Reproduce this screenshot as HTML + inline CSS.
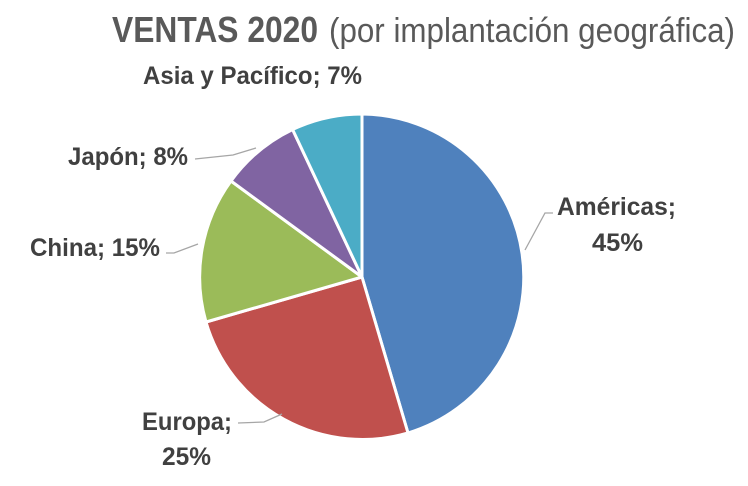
<!DOCTYPE html>
<html><head><meta charset="utf-8"><style>
html,body{margin:0;padding:0;background:#fff;}
svg{display:block;font-family:"Liberation Sans",sans-serif;}
.l{font-weight:bold;font-size:25px;fill:#404040;}
</style></head><body>
<svg width="748" height="486" viewBox="0 0 748 486">
<rect width="748" height="486" fill="#fff"/>
<text x="112" y="42" font-size="36" font-weight="bold" fill="#595959" textLength="206" lengthAdjust="spacingAndGlyphs">VENTAS 2020</text>
<text x="329" y="42" font-size="34" fill="#595959" textLength="406" lengthAdjust="spacingAndGlyphs">(por implantación geográfica)</text>
<g stroke="#fff" stroke-width="3" stroke-linejoin="round">
<path d="M362,277 L362,114 A163,163 0 0 1 408,433 Z" fill="#4f81bd"/>
<path d="M362,277 L408,433 A163,163 0 0 1 206,322 Z" fill="#c0504d"/>
<path d="M362,277 L206,322 A163,163 0 0 1 231,181 Z" fill="#9bbb59"/>
<path d="M362,277 L231,181 A163,163 0 0 1 292.6,129.5 Z" fill="#8064a2"/>
<path d="M362,277 L292.6,129.5 A163,163 0 0 1 362,114 Z" fill="#4bacc6"/>
</g>
<g stroke="#a6a6a6" stroke-width="1.3" fill="none">
<polyline points="525,250 545,213 553,213"/>
<polyline points="282,414 264,422 238,423"/>
<polyline points="198,244 174,253 166,253"/>
<polyline points="256,148 233,155 195,159"/>
</g>
<text class="l" x="143" y="84" textLength="219" lengthAdjust="spacingAndGlyphs">Asia y Pacífico; 7%</text>
<text class="l" x="68" y="165" textLength="120" lengthAdjust="spacingAndGlyphs">Japón; 8%</text>
<text class="l" x="30" y="256" textLength="130" lengthAdjust="spacingAndGlyphs">China; 15%</text>
<text class="l" x="557" y="215" textLength="119" lengthAdjust="spacingAndGlyphs">Américas;</text>
<text class="l" x="592" y="251" textLength="51" lengthAdjust="spacingAndGlyphs">45%</text>
<text class="l" x="142" y="430" textLength="90" lengthAdjust="spacingAndGlyphs">Europa;</text>
<text class="l" x="162" y="465" textLength="49" lengthAdjust="spacingAndGlyphs">25%</text>
</svg>
</body></html>
